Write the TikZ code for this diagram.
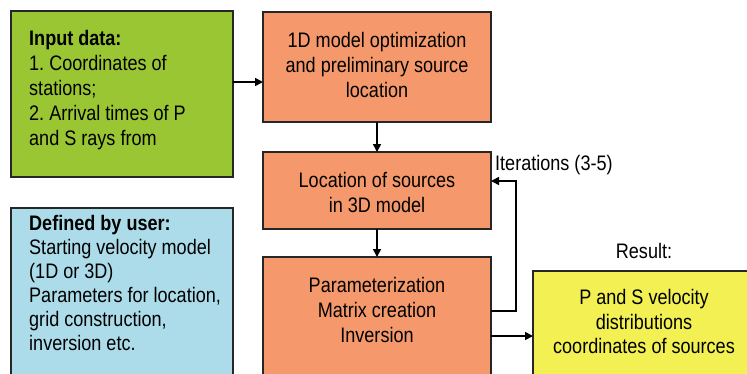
\documentclass[tikz,border=0pt]{standalone}
\usepackage{fontspec}
\setmainfont{Liberation Sans}[FakeStretch=0.86]
\usetikzlibrary{arrows.meta}
\frenchspacing
\definecolor{cgreen}{RGB}{155,198,52}
\definecolor{cblue}{RGB}{172,220,233}
\definecolor{corange}{RGB}{245,153,108}
\definecolor{cyellow}{RGB}{242,240,82}
\begin{document}
\begin{tikzpicture}[x=1pt,y=-1pt,
  box/.style={draw=black!85, line width=1.6pt, rectangle, inner sep=0pt, outer sep=0pt, anchor=north west},
  txt/.style={inner sep=0pt, font=\fontsize{21}{24.8}\selectfont},
  conn/.style={line width=1.6pt, line join=miter, -{Triangle[length=8pt,width=8pt]}}]
\useasboundingbox (0,0) rectangle (747,373);
\clip (0,0) rectangle (747,373);
% boxes
\node[box, fill=cgreen, minimum width=222pt, minimum height=166pt] (inp) at (11,11) {};
\node[box, fill=cblue, minimum width=222pt, minimum height=180pt] (usr) at (11,208) {};
\node[box, fill=corange, minimum width=228pt, minimum height=110pt] (o1) at (263,12) {};
\node[box, fill=corange, minimum width=228pt, minimum height=77pt] (o2) at (263,152) {};
\node[box, fill=corange, minimum width=228pt, minimum height=140pt] (o3) at (263,257) {};
\node[box, fill=cyellow, minimum width=222pt, minimum height=130pt] (yl) at (533,271) {};
% texts
\node[txt, anchor=north west, align=left] (tinp) at (29,30.5)
  {\textbf{Input data:}\\1. Coordinates of\\stations;\\2. Arrival times of P\\and S rays from};
\node[txt, anchor=north west, align=left, font=\fontsize{21}{24}\selectfont] (tusr) at (29,215)
  {\textbf{Defined by user:}\\Starting velocity model\\(1D or 3D)\\Parameters for location,\\grid construction,\\inversion etc.};
\node[txt, anchor=north, align=center, font=\fontsize{21}{25}\selectfont] (to1) at (377,32)
  {1D model optimization\\and preliminary source\\location};
\node[txt, anchor=north, align=center, font=\fontsize{21}{25}\selectfont] (to2) at (377,172)
  {Location of sources\\in 3D model};
\node[txt, anchor=north, align=center, font=\fontsize{21}{25}\selectfont] (to3) at (377,277)
  {Parameterization\\Matrix creation\\Inversion};
\node[txt, anchor=north, align=center, font=\fontsize{21}{24.5}\selectfont] (tyl) at (644,289.5)
  {P and S velocity\\distributions\\coordinates of sources};
\node[txt, anchor=base] (res) at (644,258) {Result:};
\node[txt, anchor=base west] (iter) at (495,170) {Iterations (3-5)};
% connectors
\coordinate (a1) at (0,82);
\coordinate (fb1) at (516,311);
\coordinate (fb2) at (0,181);
\coordinate (a2) at (0,336);
\draw[conn] (inp.east |- a1) -- (o1.west |- a1);
\draw[conn] (o1.south) -- (o2.north);
\draw[conn] (o2.south) -- (o3.north);
\draw[conn] (o3.east |- fb1) -- (fb1) |- (o2.east |- fb2);
\draw[conn] (o3.east |- a2) -- (yl.west |- a2);
\end{tikzpicture}
\end{document}
